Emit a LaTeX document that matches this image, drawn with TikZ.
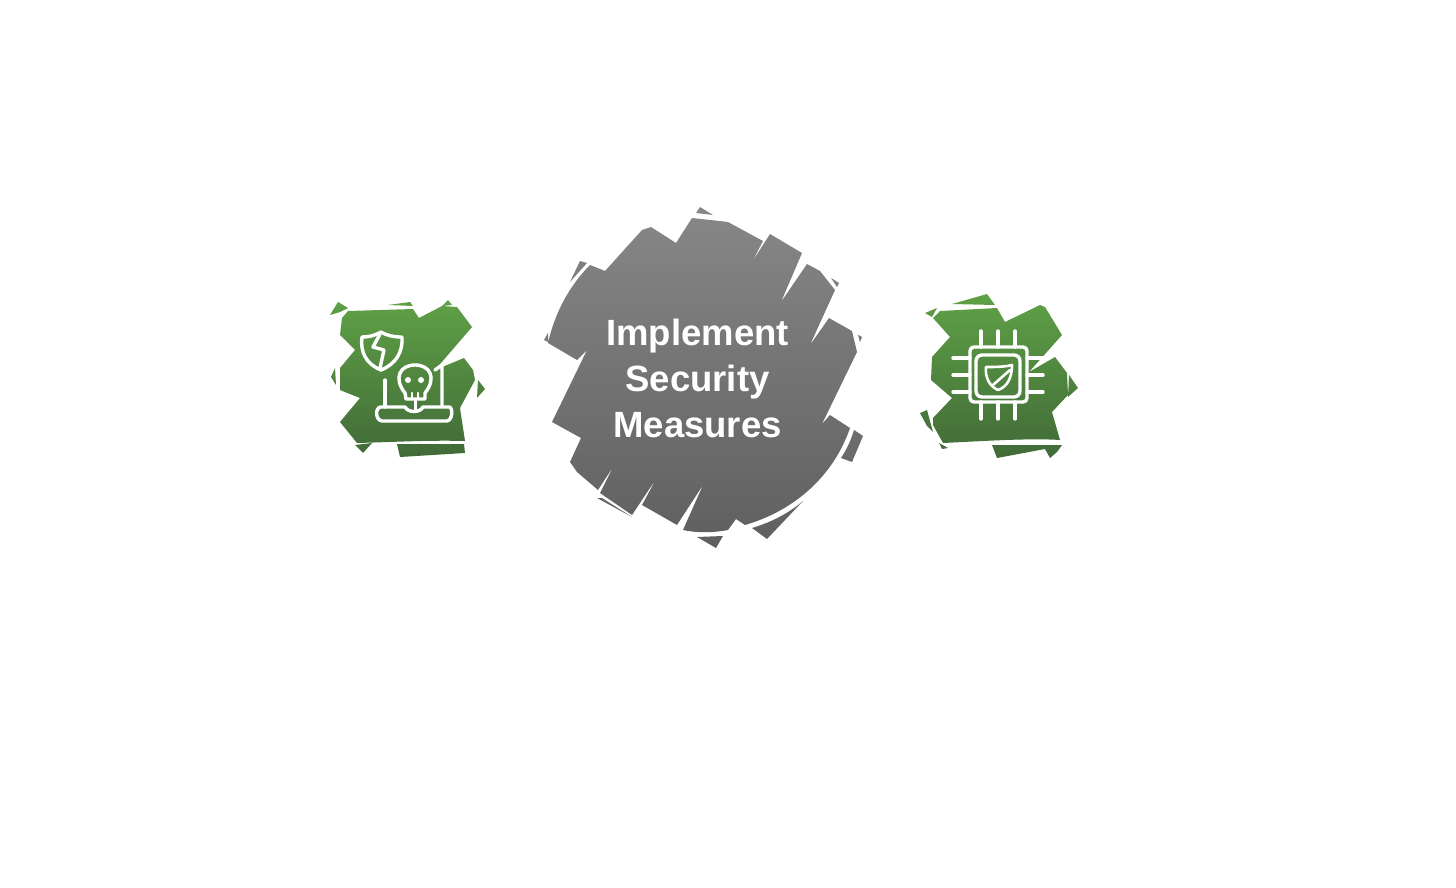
\documentclass[tikz,border=0pt]{standalone}
\usepackage{fontspec}
\setmainfont{Liberation Sans}
\definecolor{blobgreentop}{HTML}{5FA146}
\definecolor{blobgreenbot}{HTML}{416A38}
\definecolor{blobgreytop}{HTML}{878787}
\definecolor{blobgreybot}{HTML}{5F5F5F}
\begin{document}
\begin{tikzpicture} [
    x=1pt, y=-1pt,
    greyblob/.style  = { top color=blobgreytop, bottom color=blobgreybot, draw=none },
    greenblob/.style = { top color=blobgreentop, bottom color=blobgreenbot, draw=none },
    icon/.style      = { draw=white, line width=3.4pt, line cap=round, line join=round },
    title/.style     = { text=white, font=\bfseries\fontsize{36.5}{46}\selectfont, align=center },
  ]
  \useasboundingbox (0,0) rectangle (1456,888);

  % centre blob
  \path [greyblob]
    (692,218) -- (728,222) -- (763,241) -- (752,262) -- (770,234) -- (802,253) -- (781,302)
    -- (807,264) -- (820,271) -- (835,290) -- (810,345) -- (829,318) -- (852,331) -- (857,352)
    -- (822,424) -- (830,415) -- (850,428) .. controls (832,480) and (790,512) .. (745,525)
    -- (736,519) -- (728,530) .. controls (712,533) and (697,533) .. (683,530) -- (703,485)
    -- (677,525) -- (642,505) -- (656,479) -- (632,515) -- (600,493) -- (613,467) -- (598,490)
    -- (577,472) -- (570,462) -- (581,438) -- (552,422) -- (587,350) -- (577,360) -- (548,343)
    .. controls (555,312) and (570,285) .. (590,265) -- (605,271) -- (642,230) -- (651,227)
    -- (676,243) -- cycle
    (700,207) -- (696,213) -- (713,215) -- cycle
    (580,261) -- (587,263) -- (570,282) -- cycle
    (544,340) -- (548,333) -- (548,342) -- cycle
    (831,278) -- (839,283) -- (837,287) -- cycle
    (858,335) -- (862,337) -- (860,342) -- cycle
    (854,430) -- (863,436) -- (852,462) -- (841,458) .. controls (847,449) and (851,440) .. cycle
    (752,528) .. controls (772,522) and (789,513) .. (803,501) -- (767,539) -- cycle
    (697,537) -- (723,536) -- (716,548) -- cycle
    (597,498) -- (602,498) -- (632,517) -- cycle;

  % left blob
  \path [greenblob]
    (342,318) -- (348,311) -- (413,309) -- (419,318) -- (442,306) -- (457,307) -- (472,327)
    -- (435,370) -- (464,358) -- (473,370) -- (475,380) -- (460,408) -- (465,441)
    .. controls (430,440) and (395,442) .. (357,443) -- (340,422) -- (360,398) -- (340,390)
    -- (340,368) -- (355,350) -- (340,335) -- cycle
    (330,315) -- (338,302) -- (348,308) -- (340,312) -- cycle
    (335,368) -- (336,385) -- (331,377) -- cycle
    (442,306) -- (448,300) -- (452,305) -- cycle
    (388,305) -- (410,302) -- (413,306) -- cycle
    (478,380) -- (485,389) -- (477,398) -- cycle
    (397,444) -- (464,444) -- (465,453) -- (400,457) -- cycle
    (355,445) -- (372,443) -- (363,453) -- cycle;

  % right blob
  \path [greenblob]
    (933,318) -- (940,311) -- (997,308) -- (1005,322) -- (1040,305) -- (1045,307) -- (1062,335)
    -- (1029,372) -- (1055,357) -- (1067,373) -- (1068,395) -- (1052,412) -- (1060,440)
    .. controls (1030,438) and (985,441) .. (943,443) -- (933,425) -- (933,418) -- (952,398)
    -- (931,380) -- (932,357) -- (950,337) -- cycle
    (952,304) -- (987,294) -- (995,305) -- cycle
    (925,313) -- (937,308) -- (932,317) -- cycle
    (1069,375) -- (1078,388) -- (1068,397) -- cycle
    (992,445) -- (1062,445) -- (1057,452) -- (1050,458) -- (1045,449) -- (997,458) -- cycle
    (920,413) -- (927,410) -- (933,432) -- (927,426) -- cycle
    (939,443) -- (948,448) -- (942,449) -- cycle;

  % label
  \node [title] (centrelabel) at (697.5,378) {Implement\\Security\\Measures};

  % shield and skull icon
  \draw [icon] (381,332) .. controls (374,336) and (368,337) .. (362,337)
    .. controls (360,352) and (366,364) .. (381,370)
    .. controls (396,364) and (403,352) .. (402,337)
    .. controls (394,337) and (388,336) .. (381,332);
  \draw [icon] (380,334) -- (373,347) -- (384,350) -- (380,368);
  \draw [icon] (405,393) .. controls (393,378) and (400,365) .. (415,365)
    .. controls (430,365) and (437,378) .. (425,393)
    -- (425,399) -- (406,399) -- cycle;
  \draw [icon, line width=2.4pt] (412,393) -- (412,399) (418,393) -- (418,399);
  \draw [white, line width=3pt, line cap=round] (415,400) -- (415,411);
  \fill [white] (408,380) circle (3pt) (421,380) circle (3pt);
  \draw [icon] (385,380) -- (385,407);
  \draw [icon] (442,366) -- (442,407) (435,370) -- (442,365);
  \draw [icon] (381,407) -- (405,407) .. controls (408,413) and (420,413) .. (423,407) -- (449,407)
    .. controls (453,407) and (453,420) .. (447,421) -- (382,421)
    .. controls (375,420) and (375,407) .. (381,407);

  % chip icon
  \draw [icon, rounded corners=4pt] (970,347) rectangle (1027,402);
  \draw [icon, rounded corners=6pt] (976,355) rectangle (1020,397);
  \foreach \pinpos in {981,998,1015} {
    \draw [icon] (\pinpos,331) -- (\pinpos,347);
    \draw [icon] (\pinpos,402) -- (\pinpos,419);
  }
  \foreach \pinpos in {358,375,392} {
    \draw [icon] (953,\pinpos) -- (970,\pinpos);
    \draw [icon] (1027,\pinpos) -- (1043,\pinpos);
  }
  \draw [icon, line width=2.6pt] (986,367) .. controls (995,367) and (1004,367) .. (1012,365)
    .. controls (1012,378) and (1007,387) .. (998,390)
    .. controls (989,386) and (985,377) .. (986,367);
  \draw [icon, line width=2.6pt] (993,385) -- (1010,370);
\end{tikzpicture}
\end{document}
